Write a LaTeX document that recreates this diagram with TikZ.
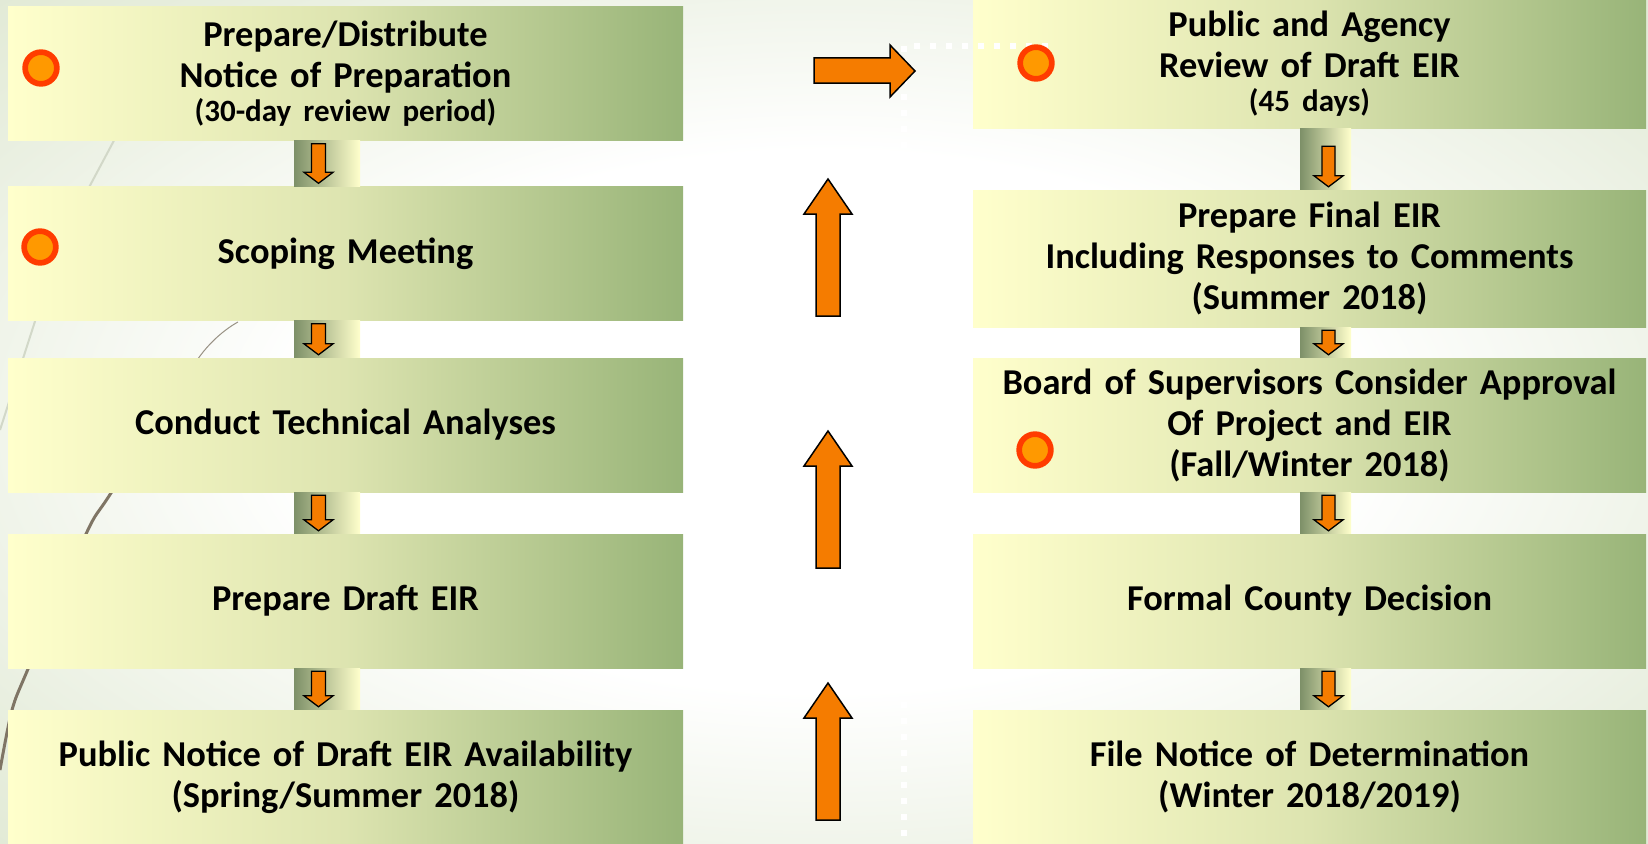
\documentclass[tikz,border=0pt]{standalone}
\usepackage{fontspec}
\setmainfont{Carlito}
\usetikzlibrary{calc}

\definecolor{paleyel}{HTML}{FFFFCC}
\definecolor{midgreen}{HTML}{DDE4B0}
\definecolor{olive}{HTML}{98B478}
\definecolor{stripgreen}{HTML}{7D9068}
\definecolor{arrorange}{HTML}{F57C00}
\definecolor{dotring}{HTML}{FF3C00}
\definecolor{dotfill}{HTML}{FF9900}
\definecolor{bggreen}{HTML}{DFE8D2}
\definecolor{swoosh}{HTML}{7F7565}
\definecolor{faint}{HTML}{D2D8C8}

\pgfdeclareradialshading{slidebg}{\pgfpoint{0bp}{0bp}}{color(0bp)=(white); color(16bp)=(white); color(30bp)=(bggreen!70!white); color(38bp)=(bggreen); color(50bp)=(bggreen)}

\begin{document}
\begin{tikzpicture}[x=1pt,y=-1pt,
    stage/.style={left color=paleyel, right color=olive, middle color=midgreen,
        minimum width=675pt, minimum height=134pt, text width=664pt, inner sep=0pt,
        align=center, font=\bfseries\fontsize{36.4}{41}\selectfont},
    link/.style={left color=stripgreen, right color=paleyel},
    smallarrow/.style={fill=arrorange, draw=black, line width=1.3pt},
    bigarrow/.style={fill=arrorange, draw=black, line width=1.5pt},
    marker/.style={circle, fill=dotfill, draw=dotring, line width=5.7pt,
        minimum size=31.7pt, inner sep=0pt}]
    \shade[shading=slidebg] (0,0) rectangle (1648,843);
    \useasboundingbox (0,0) rectangle (1648,843);
    % theme lines behind the boxes
    \draw[faint, line width=2pt] (126,118) -- (78,208);
    \draw[faint, line width=2pt] (38,312) -- (0,430);
    \draw[swoosh!80!white, line width=1pt] plot[smooth] coordinates {(238,322) (200,356) (111,493) (86,534) (28,669) (12,710) (0,770)};
    \begin{scope}
        \clip (0,450) rectangle (300,843);
        \draw[swoosh, line width=3pt] plot[smooth] coordinates {(238,322) (200,356) (111,493) (86,534) (28,669) (12,710) (0,770)};
    \end{scope}

    % left column
    \node[stage] (prep) at (345.5,73.5) {Prepare/Distribute\\Notice of Preparation\\[-7pt]{\fontsize{31}{35}\selectfont (30-day review period)}};
    \node[stage] (scope) at (345.5,253.5) {Scoping Meeting};
    \node[stage] (tech) at (345.5,425) {Conduct Technical Analyses};
    \node[stage] (draft) at (345.5,601) {Prepare Draft EIR};
    \node[stage] (avail) at (345.5,777) {Public Notice of Draft EIR Availability\\(Spring/Summer 2018)};
    % right column
    \node[stage, minimum width=673pt, minimum height=128pt] (review) at (1309.5,64) {Public and Agency\\Review of Draft EIR\\[-7pt]{\fontsize{31}{35}\selectfont (45 days)}};
    \node[stage, minimum width=673pt, minimum height=137pt] (final) at (1309.5,258.5) {Prepare Final EIR\\Including Responses to Comments\\(Summer 2018)};
    \node[stage, minimum width=673pt] (board) at (1309.5,425) {Board of Supervisors Consider Approval\\Of Project and EIR\\(Fall/Winter 2018)};
    \node[stage, minimum width=673pt] (decide) at (1309.5,601) {Formal County Decision};
    \node[stage, minimum width=673pt] (nod) at (1309.5,777) {File Notice of Determination\\(Winter 2018/2019)};

    % links between the steps
    \foreach \a/\b in {prep/scope, scope/tech, tech/draft, draft/avail}{
        \shade[link] ([xshift=-51.5pt]\a.south) rectangle ([xshift=14.5pt]\b.north);
        \coordinate (t) at ([xshift=-27pt,yshift=-3pt]\a.south);
        \coordinate (b) at ([xshift=-27pt,yshift=3pt]\b.north);
        \draw[smallarrow] ($(t)+(-7,0)$) -- ($(t)+(7,0)$) -- ($(b)+(7,-11)$) -- ($(b)+(14.5,-11)$)
            -- (b) -- ($(b)+(-14.5,-11)$) -- ($(b)+(-7,-11)$) -- cycle;
    }
    \foreach \a/\b/\o in {review/final/18, final/board/3, board/decide/3, decide/nod/3}{
        \shade[link] ([xshift=-9.5pt]\a.south) rectangle ([xshift=41.5pt]\b.north);
        \coordinate (t) at ([xshift=19pt,yshift=-\o pt]\a.south);
        \coordinate (b) at ([xshift=19pt,yshift=3pt]\b.north);
        \draw[smallarrow] ($(t)+(-6.5,0)$) -- ($(t)+(6.5,0)$) -- ($(b)+(6.5,-11)$) -- ($(b)+(14.5,-11)$)
            -- (b) -- ($(b)+(-14.5,-11)$) -- ($(b)+(-6.5,-11)$) -- cycle;
    }

    \draw[white, line width=6pt, dash pattern=on 6pt off 10pt] (1048,46) -- (904,46) -- (904,843);

    \node[marker] (m1) at (41,68) {};
    \node[marker] (m2) at (40,247) {};
    \node[marker] (m3) at (1036,63) {};
    \node[marker] (m4) at (1035,450) {};

    \foreach \y in {179,431,683}
    \draw[bigarrow, shift={(828,\y)}] (0,0) -- (24,35) -- (12,35) -- (12,137) -- (-12,137) -- (-12,35) -- (-24,35) -- cycle;
    \draw[bigarrow] (814,58) -- (890,58) -- (890,45) -- (915,71) -- (890,97) -- (890,83) -- (814,83) -- cycle;
\end{tikzpicture}
\end{document}
